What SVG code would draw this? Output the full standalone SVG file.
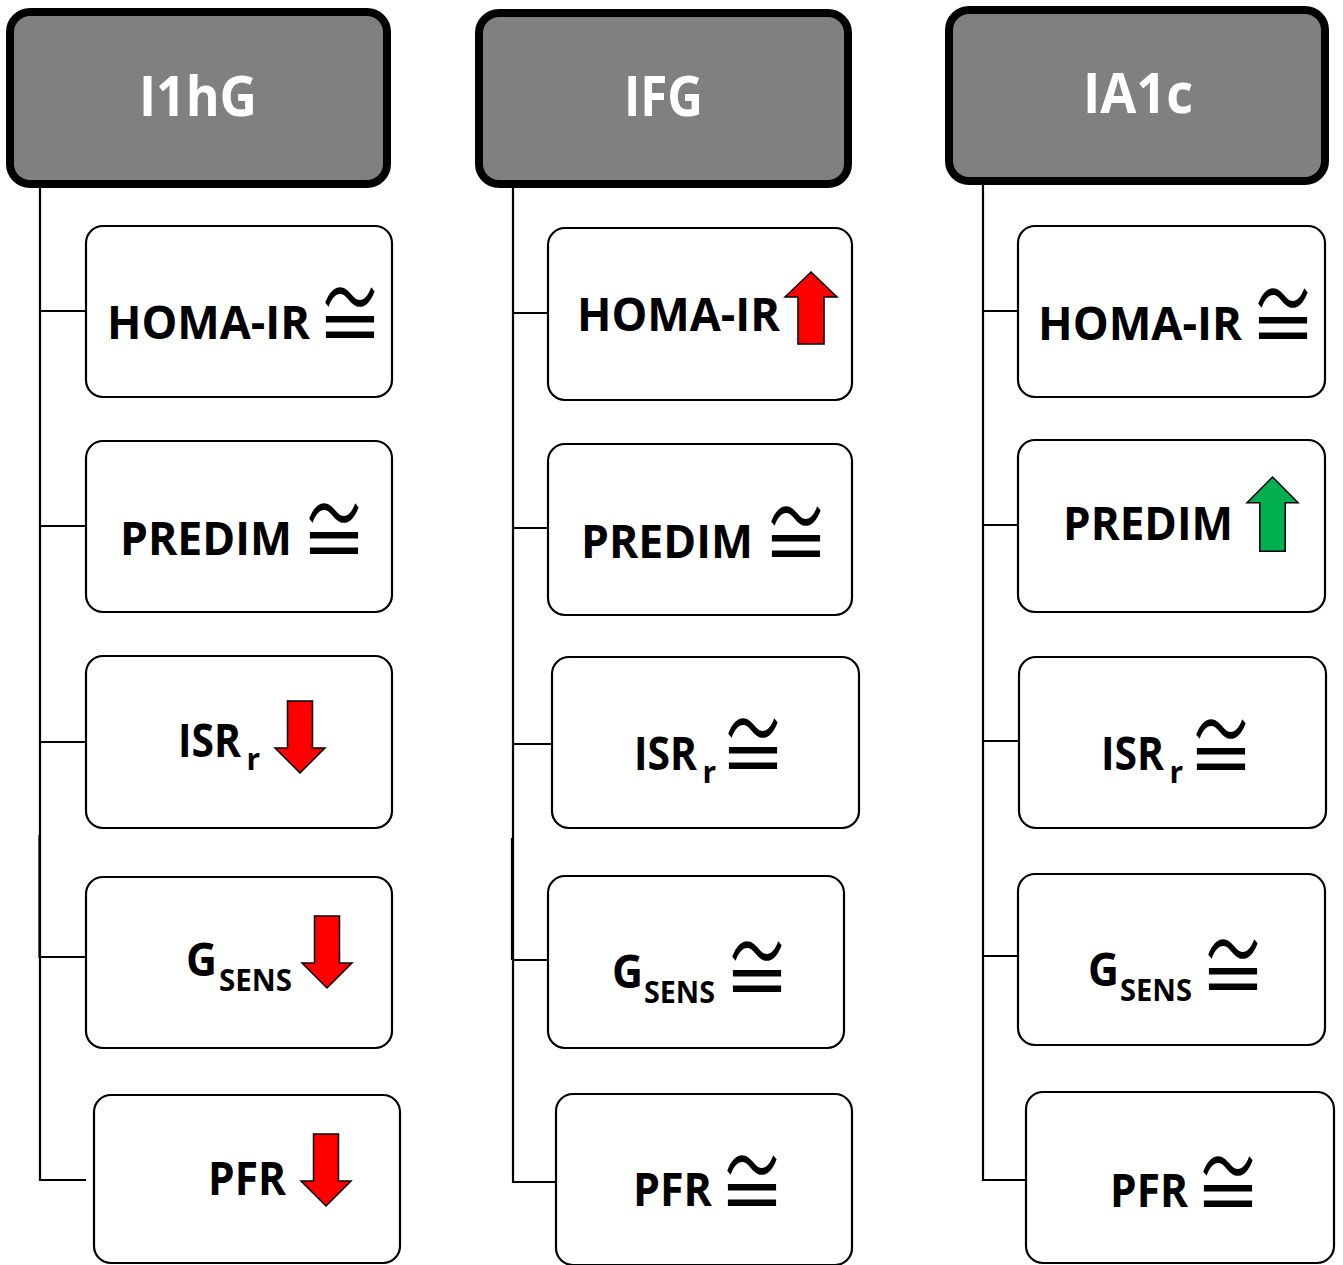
<svg xmlns="http://www.w3.org/2000/svg" width="1343" height="1265" viewBox="0 0 1343 1265">
  <style>
    .hdr rect { fill: #808080; stroke: #000; stroke-width: 8; }
    .hdr text { fill: #fff; font-family: "Open Sans", "Liberation Sans", sans-serif; font-weight: 700; font-size: 56px; }
    .box rect { fill: #fff; stroke: #000; stroke-width: 2.2; }
    .lbl { fill: #000; font-family: "Open Sans", "Liberation Sans", sans-serif; font-weight: 700; font-size: 46px; }
    .sub { fill: #000; font-family: "Open Sans", "Liberation Sans", sans-serif; font-weight: 700; font-size: 30px; }
    .eq { fill: #000; font-family: "Noto Sans CJK JP", "DejaVu Sans", sans-serif; font-weight: 350; font-size: 66px; }
    .conn { fill: none; stroke: #000; stroke-width: 2.2; }
    .down, .up { stroke: #000; stroke-width: 1.5; stroke-linejoin: miter; }
    .red { fill: #ff0000; }
    .green { fill: #00b050; }
  </style>
  <defs>
    <path id="arrowDown" d="M12.5,0 H37.5 V47 H50 L25,72 L0,47 H12.5 Z"/>
    <path id="arrowUp" d="M25,0 L50,25 H37.5 V72 H12.5 V25 H0 Z"/>
  </defs>

  <!-- tree connectors -->
  <g id="connectors" class="conn">
    <path d="M40,186 V1180 H86"/>
    <path d="M39.5,835 V958"/>
    <path d="M40,311 H86 M40,526 H86 M40,742 H86 M40,957 H86"/>
    <path d="M513,186 V1182 H556"/>
    <path d="M512,838 V960"/>
    <path d="M513,313 H548 M513,528 H548 M513,744 H552 M513,960 H548"/>
    <path d="M983,183 V1180 H1026"/>
    <path d="M983,311 H1018 M983,525 H1018 M983,741 H1019 M983,956 H1018"/>
  </g>

  <!-- column headers -->
  <g id="hdr-i1hg" class="hdr">
    <rect x="10" y="12" width="377" height="172" rx="20"/>
    <text x="139" y="116" textLength="118" lengthAdjust="spacingAndGlyphs">I1hG</text>
  </g>
  <g id="hdr-ifg" class="hdr">
    <rect x="479" y="13" width="369" height="171" rx="20"/>
    <text x="624" y="116" textLength="79" lengthAdjust="spacingAndGlyphs">IFG</text>
  </g>
  <g id="hdr-ia1c" class="hdr">
    <rect x="949" y="10" width="376" height="171" rx="20"/>
    <text x="1083" y="113" textLength="110" lengthAdjust="spacingAndGlyphs">IA1c</text>
  </g>

  <!-- I1hG column -->
  <g id="i1hg-homa" class="box">
    <rect x="86" y="226" width="306" height="171" rx="17"/>
    <text class="lbl" x="107" y="339" textLength="203" lengthAdjust="spacingAndGlyphs">HOMA-IR</text>
    <text class="eq" transform="translate(317,352) scale(1,1.64)">≅</text>
  </g>
  <g id="i1hg-predim" class="box">
    <rect x="86" y="441" width="306" height="171" rx="17"/>
    <text class="lbl" x="120" y="555" textLength="172" lengthAdjust="spacingAndGlyphs">PREDIM</text>
    <text class="eq" transform="translate(301,568) scale(1,1.64)">≅</text>
  </g>
  <g id="i1hg-isr" class="box">
    <rect x="86" y="656" width="306" height="172" rx="17"/>
    <text class="lbl" x="178" y="757" textLength="63" lengthAdjust="spacingAndGlyphs">ISR</text>
    <text class="sub" x="246.5" y="770">r</text>
    <use href="#arrowDown" class="down red" x="275" y="701"/>
  </g>
  <g id="i1hg-gsens" class="box">
    <rect x="86" y="877" width="306" height="171" rx="17"/>
    <text class="lbl" x="186" y="976" textLength="31" lengthAdjust="spacingAndGlyphs">G</text>
    <text class="sub" x="219" y="991" textLength="73" lengthAdjust="spacingAndGlyphs">SENS</text>
    <use href="#arrowDown" class="down red" x="302" y="916"/>
  </g>
  <g id="i1hg-pfr" class="box">
    <rect x="94" y="1095" width="306" height="168" rx="17"/>
    <text class="lbl" x="208" y="1195" textLength="78" lengthAdjust="spacingAndGlyphs">PFR</text>
    <use href="#arrowDown" class="down red" x="301" y="1134"/>
  </g>

  <!-- IFG column -->
  <g id="ifg-homa" class="box">
    <rect x="548" y="228" width="304" height="172" rx="17"/>
    <text class="lbl" x="577" y="331" textLength="203" lengthAdjust="spacingAndGlyphs">HOMA-IR</text>
    <use href="#arrowUp" class="up red" transform="translate(785,272) scale(1.04,1)"/>
  </g>
  <g id="ifg-predim" class="box">
    <rect x="548" y="444" width="304" height="171" rx="17"/>
    <text class="lbl" x="581" y="558" textLength="172" lengthAdjust="spacingAndGlyphs">PREDIM</text>
    <text class="eq" transform="translate(763,571) scale(1,1.64)">≅</text>
  </g>
  <g id="ifg-isr" class="box">
    <rect x="552" y="657" width="307" height="171" rx="17"/>
    <text class="lbl" x="634" y="770" textLength="63" lengthAdjust="spacingAndGlyphs">ISR</text>
    <text class="sub" x="702.5" y="783">r</text>
    <text class="eq" transform="translate(720,783) scale(1,1.64)">≅</text>
  </g>
  <g id="ifg-gsens" class="box">
    <rect x="548" y="876" width="296" height="172" rx="17"/>
    <text class="lbl" x="612" y="988" textLength="31" lengthAdjust="spacingAndGlyphs">G</text>
    <text class="sub" x="644" y="1003" textLength="71" lengthAdjust="spacingAndGlyphs">SENS</text>
    <text class="eq" transform="translate(724,1006) scale(1,1.64)">≅</text>
  </g>
  <g id="ifg-pfr" class="box">
    <rect x="556" y="1094" width="296" height="171" rx="17"/>
    <text class="lbl" x="633" y="1206" textLength="79" lengthAdjust="spacingAndGlyphs">PFR</text>
    <text class="eq" transform="translate(719,1220) scale(1,1.64)">≅</text>
  </g>

  <!-- IA1c column -->
  <g id="ia1c-homa" class="box">
    <rect x="1018" y="226" width="307" height="171" rx="17"/>
    <text class="lbl" x="1038" y="340" textLength="204" lengthAdjust="spacingAndGlyphs">HOMA-IR</text>
    <text class="eq" transform="translate(1250,353) scale(1,1.64)">≅</text>
  </g>
  <g id="ia1c-predim" class="box">
    <rect x="1018" y="440" width="307" height="172" rx="17"/>
    <text class="lbl" x="1063" y="540" textLength="170" lengthAdjust="spacingAndGlyphs">PREDIM</text>
    <use href="#arrowUp" class="up green" transform="translate(1247,477) scale(1.02,1.03)"/>
  </g>
  <g id="ia1c-isr" class="box">
    <rect x="1019" y="657" width="307" height="171" rx="17"/>
    <text class="lbl" x="1101" y="770" textLength="63" lengthAdjust="spacingAndGlyphs">ISR</text>
    <text class="sub" x="1169.5" y="783">r</text>
    <text class="eq" transform="translate(1188,784) scale(1,1.64)">≅</text>
  </g>
  <g id="ia1c-gsens" class="box">
    <rect x="1018" y="874" width="307" height="171" rx="17"/>
    <text class="lbl" x="1088" y="986" textLength="31" lengthAdjust="spacingAndGlyphs">G</text>
    <text class="sub" x="1120" y="1001" textLength="72" lengthAdjust="spacingAndGlyphs">SENS</text>
    <text class="eq" transform="translate(1200,1004) scale(1,1.64)">≅</text>
  </g>
  <g id="ia1c-pfr" class="box">
    <rect x="1026" y="1092" width="308" height="171" rx="17"/>
    <text class="lbl" x="1110" y="1207" textLength="78" lengthAdjust="spacingAndGlyphs">PFR</text>
    <text class="eq" transform="translate(1195,1221) scale(1,1.64)">≅</text>
  </g>
</svg>
